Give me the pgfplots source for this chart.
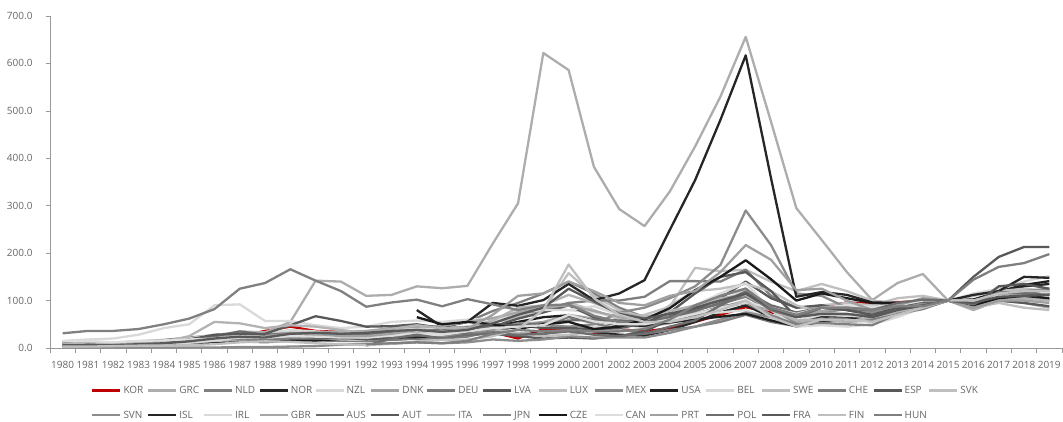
\documentclass[border=0pt]{standalone}
\usepackage{pgfplots}
\pgfplotsset{compat=1.18}
\usepackage{fontspec}
\setmainfont{Open Sans}
\definecolor{cKOR}{HTML}{C00000}
\definecolor{cGRC}{HTML}{ADADAD}
\definecolor{cNLD}{HTML}{808080}
\definecolor{cNOR}{HTML}{262626}
\definecolor{cNZL}{HTML}{D9D9D9}
\definecolor{cDNK}{HTML}{A6A6A6}
\definecolor{cDEU}{HTML}{7F7F7F}
\definecolor{cLVA}{HTML}{595959}
\definecolor{cLUX}{HTML}{BFBFBF}
\definecolor{cMEX}{HTML}{8C8C8C}
\definecolor{cUSA}{HTML}{1F1F1F}
\definecolor{cBEL}{HTML}{D9D9D9}
\definecolor{cSWE}{HTML}{BFBFBF}
\definecolor{cCHE}{HTML}{7F7F7F}
\definecolor{cESP}{HTML}{595959}
\definecolor{cSVK}{HTML}{BFBFBF}
\definecolor{cSVN}{HTML}{8C8C8C}
\definecolor{cISL}{HTML}{262626}
\definecolor{cIRL}{HTML}{D9D9D9}
\definecolor{cGBR}{HTML}{A6A6A6}
\definecolor{cAUS}{HTML}{6E6E6E}
\definecolor{cAUT}{HTML}{595959}
\definecolor{cITA}{HTML}{B3B3B3}
\definecolor{cJPN}{HTML}{808080}
\definecolor{cCZE}{HTML}{1A1A1A}
\definecolor{cCAN}{HTML}{DDDDDD}
\definecolor{cPRT}{HTML}{A0A0A0}
\definecolor{cPOL}{HTML}{6E6E6E}
\definecolor{cFRA}{HTML}{595959}
\definecolor{cFIN}{HTML}{BFBFBF}
\definecolor{cHUN}{HTML}{7F7F7F}
\newcommand{\lgd}[1]{\makebox[22pt][l]{#1}}
\begin{document}
\begin{tikzpicture}
\useasboundingbox (-50pt,-73pt) rectangle (1013pt,348pt);
\begin{axis}[
  scale only axis, width=1012pt, height=332pt,
  xmin=1979.5, xmax=2019.5, ymin=0, ymax=700,
  axis x line*=bottom, axis y line*=left,
  axis line style={-, draw=black!40, line width=0.7pt},
  every tick/.style={draw=black!40, line width=0.7pt},
  tick align=outside,
  xtick={1980,...,2019}, major x tick style={draw=none},
  xticklabels={1980,1981,1982,1983,1984,1985,1986,1987,1988,1989,1990,1991,1992,1993,1994,1995,1996,1997,1998,1999,2000,2001,2002,2003,2004,2005,2006,2007,2008,2009,2010,2011,2012,2013,2014,2015,2016,2017,2018,2019},
  minor xtick={1979.5,1980.5,...,2019.5}, minor tick length=5pt,
  ytick={0,100,200,300,400,500,600,700}, major tick length=4pt,
  yticklabels={0.0,100.0,200.0,300.0,400.0,500.0,600.0,700.0},
  ticklabel style={font=\fontsize{10}{12}\selectfont, text=black!60},
  xticklabel style={yshift=-6pt},
  yticklabel style={xshift=-10pt},
  no markers,
  every axis plot/.append style={line width=2.3pt, line join=round},
  clip=false,
  legend columns=16,
  legend cell align=left,
  legend image code/.code={\draw[#1, line width=2.3pt] (0pt,0pt) -- (28pt,0pt);},
  legend style={at={(axis description cs:0,0)}, anchor=north west, xshift=38pt, yshift=-36pt,
    draw=none, fill=none, font=\fontsize{10}{12}\selectfont, text=black!60,
    nodes={inner sep=0pt},
    row sep=16pt,
    /tikz/every odd column/.append style={column sep=2pt},
    /tikz/every even column/.append style={column sep=1.5pt}},
]
\addplot[cKOR] table[x expr=\coordindex+1980, y=v, row sep=\\]{v\\6\\7\\7\\7\\7\\8\\14\\25\\36\\45\\36\\34\\30\\38\\46\\44\\40\\33\\20\\40\\36\\30\\40\\35\\42\\55\\70\\86\\75\\68\\87\\96\\94\\97\\98\\100\\99\\116\\113\\103\\};
\addlegendentry{\lgd{KOR}}
\addplot[cGRC] table[x expr=\coordindex+1980, y=v, row sep=\\]{v\\10\\9\\9\\9\\9\\10\\14\\35\\33\\55\\142\\140\\110\\112\\130\\126\\131\\220\\305\\622\\586\\382\\293\\257\\330\\425\\530\\656\\477\\295\\228\\160\\101\\137\\156\\100\\80\\100\\95\\85\\};
\addlegendentry{\lgd{GRC}}
\addplot[cNLD] table[x expr=\coordindex+1980, y=v, row sep=\\]{v\\10\\10\\11\\14\\17\\22\\27\\28\\28\\32\\30\\31\\32\\38\\42\\44\\55\\78\\95\\115\\140\\115\\85\\65\\72\\80\\93\\108\\80\\55\\68\\70\\65\\75\\85\\100\\95\\110\\118\\122\\};
\addlegendentry{\lgd{NLD}}
\addplot[cNOR] table[x expr=\coordindex+1980, y=v, row sep=\\]{v\\5\\6\\6\\8\\10\\12\\12\\14\\14\\18\\20\\18\\15\\18\\20\\22\\26\\34\\30\\30\\38\\34\\28\\26\\38\\55\\75\\90\\65\\50\\65\\70\\68\\78\\88\\100\\98\\115\\130\\135\\};
\addlegendentry{\lgd{NOR}}
\addplot[cNZL] table[x expr=\coordindex+1980, y=v, row sep=\\]{v\\15\\18\\20\\28\\42\\50\\90\\92\\57\\57\\48\\42\\45\\55\\58\\55\\60\\62\\52\\52\\45\\45\\48\\52\\65\\72\\75\\80\\62\\55\\60\\62\\68\\82\\90\\100\\115\\125\\140\\152\\};
\addlegendentry{\lgd{NZL}}
\addplot[cDNK] table[x expr=\coordindex+1980, y=v, row sep=\\]{v\\4\\5\\7\\12\\12\\13\\14\\13\\16\\22\\22\\22\\20\\25\\27\\27\\32\\45\\50\\55\\70\\62\\48\\45\\52\\68\\85\\100\\70\\50\\62\\55\\58\\75\\88\\100\\95\\105\\105\\115\\};
\addlegendentry{\lgd{DNK}}
\addplot[cDEU] table[x expr=\coordindex+1980, y=v, row sep=\\]{v\\5\\5\\5\\7\\8\\11\\16\\14\\12\\15\\16\\15\\15\\17\\20\\20\\24\\35\\45\\48\\65\\52\\40\\30\\38\\45\\55\\70\\55\\46\\56\\62\\60\\75\\85\\100\\92\\112\\110\\112\\};
\addlegendentry{\lgd{DEU}}
\addplot[cLVA] table[x expr=\coordindex+1997, y=v, row sep=\\]{v\\30\\25\\20\\22\\20\\25\\35\\60\\90\\110\\125\\80\\45\\60\\65\\65\\75\\85\\100\\150\\192\\213\\213\\};
\addlegendentry{\lgd{LVA}}
\addplot[cLUX] table[x expr=\coordindex+1985, y=v, row sep=\\]{v\\20\\25\\22\\22\\28\\25\\22\\24\\35\\38\\35\\40\\55\\65\\80\\95\\80\\60\\70\\87\\169\\162\\165\\140\\120\\135\\120\\100\\95\\95\\100\\85\\95\\85\\80\\};
\addlegendentry{\lgd{LUX}}
\addplot[cMEX] table[x expr=\coordindex+1980, y=v, row sep=\\]{v\\1\\1\\1\\1\\1\\1\\1\\2\\2\\3\\4\\7\\9\\9\\12\\10\\12\\18\\15\\18\\25\\22\\22\\22\\32\\45\\60\\75\\65\\55\\75\\82\\90\\95\\97\\100\\103\\112\\110\\100\\};
\addlegendentry{\lgd{MEX}}
\addplot[cUSA] table[x expr=\coordindex+1980, y=v, row sep=\\]{v\\6\\7\\6\\8\\8\\9\\12\\15\\14\\17\\16\\19\\20\\22\\23\\26\\33\\45\\55\\65\\69\\57\\48\\47\\54\\60\\66\\72\\58\\46\\55\\62\\68\\80\\94\\100\\102\\119\\133\\141\\};
\addlegendentry{\lgd{USA}}
\addplot[cBEL] table[x expr=\coordindex+1980, y=v, row sep=\\]{v\\8\\8\\9\\12\\15\\20\\28\\33\\30\\38\\35\\32\\33\\38\\42\\40\\45\\58\\80\\85\\80\\75\\65\\55\\65\\80\\100\\122\\85\\58\\70\\68\\65\\78\\90\\100\\100\\108\\105\\102\\};
\addlegendentry{\lgd{BEL}}
\addplot[cSWE] table[x expr=\coordindex+1980, y=v, row sep=\\]{v\\3\\4\\5\\8\\9\\11\\15\\17\\20\\26\\22\\18\\17\\25\\32\\35\\42\\58\\62\\80\\158\\110\\80\\65\\75\\90\\110\\125\\85\\70\\90\\95\\90\\105\\110\\100\\95\\105\\110\\115\\};
\addlegendentry{\lgd{SWE}}
\addplot[cCHE] table[x expr=\coordindex+1980, y=v, row sep=\\]{v\\10\\10\\10\\12\\14\\18\\20\\18\\17\\20\\20\\20\\22\\30\\30\\32\\38\\55\\75\\78\\95\\100\\100\\108\\141\\141\\140\\165\\110\\85\\90\\80\\75\\90\\95\\100\\92\\108\\105\\115\\};
\addlegendentry{\lgd{CHE}}
\addplot[cESP] table[x expr=\coordindex+1980, y=v, row sep=\\]{v\\5\\5\\5\\5\\7\\9\\18\\25\\25\\27\\22\\22\\18\\22\\26\\25\\30\\45\\62\\75\\90\\65\\55\\55\\68\\80\\105\\140\\105\\85\\90\\80\\70\\82\\100\\100\\85\\100\\95\\88\\};
\addlegendentry{\lgd{ESP}}
\addplot[cSVK] table[x expr=\coordindex+1995, y=v, row sep=\\]{v\\40\\45\\40\\30\\25\\28\\35\\40\\55\\90\\120\\125\\135\\120\\90\\75\\70\\75\\80\\90\\100\\110\\120\\125\\120\\};
\addlegendentry{\lgd{SVK}}
\addplot[cSVN] table[x expr=\coordindex+1994, y=v, row sep=\\]{v\\30\\25\\28\\40\\52\\48\\45\\50\\75\\85\\105\\130\\175\\290\\217\\115\\110\\85\\75\\80\\95\\100\\95\\115\\120\\125\\};
\addlegendentry{\lgd{SVN}}
\addplot[cISL] table[x expr=\coordindex+1994, y=v, row sep=\\]{v\\80\\45\\55\\95\\89\\101\\135\\101\\115\\143\\249\\354\\481\\617\\358\\108\\118\\112\\96\\95\\98\\100\\112\\120\\150\\148\\};
\addlegendentry{\lgd{ISL}}
\addplot[cIRL] table[x expr=\coordindex+1980, y=v, row sep=\\]{v\\6\\6\\6\\7\\9\\11\\16\\22\\22\\28\\25\\22\\22\\28\\30\\32\\40\\55\\75\\80\\80\\88\\70\\58\\72\\90\\115\\137\\80\\45\\48\\45\\50\\65\\85\\100\\100\\110\\105\\100\\};
\addlegendentry{\lgd{IRL}}
\addplot[cGBR] table[x expr=\coordindex+1980, y=v, row sep=\\]{v\\8\\9\\10\\12\\15\\18\\22\\28\\28\\32\\32\\35\\36\\42\\45\\46\\55\\63\\75\\85\\90\\78\\65\\58\\65\\73\\85\\95\\80\\66\\78\\85\\84\\95\\100\\100\\95\\108\\105\\102\\};
\addlegendentry{\lgd{GBR}}
\addplot[cAUS] table[x expr=\coordindex+1980, y=v, row sep=\\]{v\\13\\13\\10\\12\\14\\17\\25\\35\\28\\30\\28\\28\\29\\34\\38\\37\\40\\46\\48\\52\\58\\60\\58\\55\\65\\78\\95\\119\\90\\75\\85\\82\\80\\92\\98\\100\\98\\107\\112\\122\\};
\addlegendentry{\lgd{AUS}}
\addplot[cAUT] table[x expr=\coordindex+1980, y=v, row sep=\\]{v\\8\\8\\8\\8\\10\\18\\28\\30\\30\\48\\67\\57\\45\\46\\50\\42\\43\\50\\48\\42\\42\\40\\42\\52\\75\\115\\150\\160\\120\\65\\85\\80\\70\\85\\85\\100\\90\\130\\135\\125\\};
\addlegendentry{\lgd{AUT}}
\addplot[cITA] table[x expr=\coordindex+1980, y=v, row sep=\\]{v\\8\\12\\10\\11\\13\\25\\55\\52\\42\\48\\45\\38\\32\\40\\48\\42\\42\\58\\85\\90\\112\\95\\75\\65\\78\\90\\105\\112\\80\\58\\60\\55\\65\\75\\85\\100\\85\\100\\105\\100\\};
\addlegendentry{\lgd{ITA}}
\addplot[cJPN] table[x expr=\coordindex+1980, y=v, row sep=\\]{v\\31\\36\\36\\40\\50\\62\\82\\125\\137\\166\\142\\120\\87\\96\\102\\88\\103\\92\\80\\90\\92\\68\\55\\50\\60\\70\\88\\95\\68\\50\\53\\50\\48\\72\\82\\100\\88\\105\\116\\112\\};
\addlegendentry{\lgd{JPN}}
\addplot[cCZE] table[x expr=\coordindex+1994, y=v, row sep=\\]{v\\65\\50\\55\\50\\40\\50\\55\\40\\45\\60\\84\\122\\150\\185\\145\\100\\115\\105\\95\\95\\100\\100\\90\\105\\110\\105\\};
\addlegendentry{\lgd{CZE}}
\addplot[cCAN] table[x expr=\coordindex+1980, y=v, row sep=\\]{v\\14\\15\\12\\15\\16\\18\\20\\25\\22\\25\\24\\24\\22\\26\\28\\28\\35\\42\\45\\48\\70\\56\\50\\50\\60\\72\\85\\96\\85\\72\\85\\90\\87\\90\\100\\100\\98\\110\\110\\118\\};
\addlegendentry{\lgd{CAN}}
\addplot[cPRT] table[x expr=\coordindex+1988, y=v, row sep=\\]{v\\25\\30\\30\\25\\25\\30\\38\\35\\40\\70\\110\\115\\140\\120\\95\\90\\110\\120\\160\\217\\186\\122\\125\\100\\80\\90\\105\\100\\85\\100\\100\\95\\};
\addlegendentry{\lgd{PRT}}
\addplot[cPOL] table[x expr=\coordindex+1992, y=v, row sep=\\]{v\\5\\20\\28\\20\\28\\30\\28\\30\\35\\28\\25\\30\\45\\58\\90\\115\\80\\65\\85\\85\\80\\95\\102\\100\\92\\118\\115\\112\\};
\addlegendentry{\lgd{POL}}
\addplot[cFRA] table[x expr=\coordindex+1980, y=v, row sep=\\]{v\\6\\6\\6\\8\\10\\14\\20\\24\\22\\30\\32\\30\\32\\36\\38\\34\\38\\52\\70\\85\\125\\98\\72\\62\\72\\85\\100\\115\\85\\65\\72\\72\\65\\80\\90\\100\\95\\108\\110\\112\\};
\addlegendentry{\lgd{FRA}}
\addplot[cFIN] table[x expr=\coordindex+1980, y=v, row sep=\\]{v\\3\\3\\4\\5\\5\\6\\8\\12\\14\\13\\10\\8\\6\\9\\14\\17\\18\\25\\40\\80\\176\\105\\70\\55\\55\\65\\80\\100\\65\\45\\60\\60\\55\\70\\85\\100\\100\\115\\120\\120\\};
\addlegendentry{\lgd{FIN}}
\addplot[cHUN] table[x expr=\coordindex+1992, y=v, row sep=\\]{v\\8\\10\\12\\10\\15\\30\\38\\35\\38\\35\\35\\40\\60\\90\\110\\125\\85\\70\\85\\85\\80\\88\\88\\100\\144\\171\\179\\198\\};
\addlegendentry{\lgd{HUN}}
\end{axis}
\end{tikzpicture}
\end{document}
